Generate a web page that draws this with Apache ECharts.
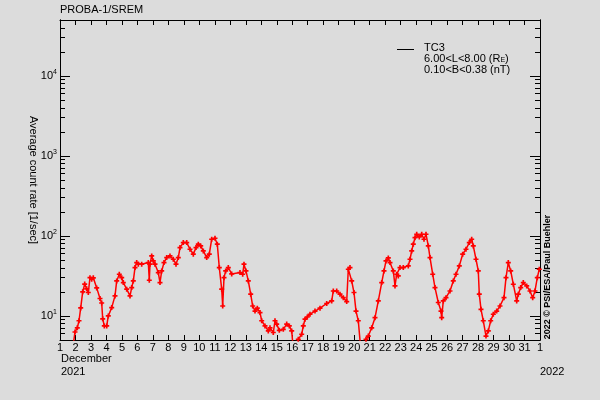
<!DOCTYPE html>
<html><head><meta charset="utf-8">
<script src="https://cdn.jsdelivr.net/npm/echarts@6/dist/echarts.min.js"></script>
<style>html,body{margin:0;padding:0;background:#dcdcdc}#c{width:600px;height:400px}</style>
</head><body><div id="c"></div>
<script>
// Day of December 2021 (32 = 1 January 2022)
const days = [1.872,1.969,2.117,2.227,2.337,2.466,2.595,2.724,2.828,2.937,3.047,3.151,3.370,3.583,3.693,3.758,3.861,4.016,4.119,4.339,
4.552,4.662,4.830,4.985,5.088,5.308,5.521,5.631,5.734,5.844,5.953,6.057,6.276,6.703,6.767,6.812,6.922,7.026,7.135,7.348,
7.458,7.568,7.717,7.891,8.104,8.317,8.492,8.640,8.750,8.963,9.183,9.396,9.609,9.783,9.932,10.087,10.255,10.474,10.642,10.797,
11.010,11.159,11.288,11.443,11.508,11.592,11.701,11.869,12.089,12.625,12.799,12.883,13.012,13.161,13.316,13.445,13.594,13.742,13.917,14.026,
14.239,14.452,14.562,14.775,14.885,14.995,15.163,15.421,15.641,15.809,15.964,16.048,16.306,16.390,16.610,16.713,16.823,16.971,17.146,17.469,
17.792,18.224,18.547,18.651,18.870,19.083,19.296,19.516,19.619,19.729,19.839,19.987,20.117,20.265,20.407,20.698,20.762,20.911,21.131,21.344,
21.557,21.777,21.925,22.054,22.203,22.312,22.526,22.635,22.745,22.848,22.958,23.171,23.494,23.604,23.714,23.817,23.927,24.037,24.205,24.360,
24.508,24.637,24.786,24.896,25.070,25.218,25.431,25.606,25.651,25.754,25.929,26.187,26.400,26.575,26.788,27.007,27.220,27.433,27.588,27.692,
27.866,28.015,28.079,28.189,28.338,28.512,28.661,28.816,28.984,29.203,29.417,29.675,29.804,29.953,30.108,30.276,30.495,30.599,30.754,30.921,
31.141,31.354,31.528,31.677,31.825,31.954];
// TC3 average count rate [1/sec]
const rates = [4.6,6.3,7.1,8.7,12.6,20,25,21.8,19.6,30.1,28.8,29.9,22.4,16.5,14.5,9.2,7.5,7.5,10,12.7,
17.8,27.4,33.2,30.1,26.1,21.6,17.8,22.6,27.4,40.2,46.4,44.3,44.3,46.4,27.9,44.3,56.2,48.7,44.3,34.8,
26.1,36.5,46.4,53.6,56.2,51.1,44.3,53.6,71.4,82.5,82.5,68.2,59.1,71.4,78.8,75,64.9,53.6,59.1,90.9,
93.6,78.8,40.2,21.6,13.3,30.1,36.5,40.2,33.5,34.8,33.2,44.3,36.5,27.4,18.7,13.3,11.5,12.5,11.0,8.7,
7.5,6.5,7.1,6.2,8.7,7.9,6.6,6.8,7.9,7.5,6.5,4.2,4.6,5.1,5.9,7.5,9.1,9.7,10.5,11.5,
12.5,14.3,15.4,20.5,20.5,18.7,16.9,15.1,38.3,40.2,27.4,19.6,11.5,8.7,4.2,4.2,5.1,5.6,7.1,9.5,
15.4,26.1,36.5,48.7,53.1,46.4,36.5,23.7,33.2,31.6,40.2,40.2,42.2,51.1,64.9,78.8,95.2,105,97.2,105,
90.9,105,75,53.6,33.2,22.6,14.7,11.5,9.5,15.4,16.9,20.5,27.4,33.2,42.2,59.1,68.2,82.5,90.9,75,
51.1,36.5,18.7,12.1,8.7,5.6,6.5,8.7,10.5,11.5,13.3,16.9,30.1,46.4,36.5,24.9,15.4,18.7,22.6,26.1,
23.7,20.5,16.9,20.5,30.1,38.3];
const xTickLabels = ['1','2','3','4','5','6','7','8','9','10','11','12','13','14','15','16','17','18','19','20','21','22','23','24','25','26','27','28','29','30','31','1'];
const yDecades = [1,2,3,4]; // labels 10^1 .. 10^4
const yMin = 5, yMax = 50000;

const lmin = Math.log10(yMin), lmax = Math.log10(yMax);
const minorVals = [];
for (let n = 0; n <= 4; n++) for (let k = 2; k <= 9; k++) {
  const l = Math.log10(k * Math.pow(10, n));
  if (l >= lmin && l <= lmax) minorVals.push(l);
}
const font = 'Liberation Sans';
const black = '#000';
const pts = days.map((d, i) => [d, Math.log10(rates[i])]);

function yAx(pos, ticks, len, labels) {
  return {
    type: 'value', position: pos, min: lmin, max: lmax,
    axisLine: {show: true, lineStyle: {color: black, width: 1}},
    axisTick: {show: true, inside: true, length: len, customValues: ticks, lineStyle: {color: black, width: 1}},
    axisLabel: labels ? {
      show: true, customValues: ticks, margin: 3, color: black,
      formatter: v => '{b|10}{s|' + Math.round(v) + '}',
      rich: {b: {fontSize: 11, fontFamily: font, color: black},
             s: {fontSize: 7, fontFamily: font, color: black, padding: [0, 0, 7, 0]}}
    } : {show: false},
    splitLine: {show: false}
  };
}
function xAx(pos, labels) {
  return {
    type: 'value', position: pos, min: 1, max: 32, interval: 1,
    axisLine: {show: true, onZero: false, lineStyle: {color: black, width: 1}},
    axisTick: {show: true, inside: true, length: 5, lineStyle: {color: black, width: 1}},
    axisLabel: labels ? {show: true, interval: 0, margin: 2, color: black, fontSize: 11, fontFamily: font,
      formatter: v => xTickLabels[Math.round(v) - 1]} : {show: false},
    splitLine: {show: false}
  };
}

const chart = echarts.init(document.getElementById('c'), null, {renderer: 'canvas'});
chart.setOption({
  animation: false,
  backgroundColor: '#dcdcdc',
  grid: {left: 60, right: 60, top: 20, bottom: 60},
  xAxis: [xAx('bottom', true), xAx('top', false)],
  yAxis: [yAx('left', yDecades, 10, true), yAx('left', minorVals, 5, false),
          yAx('right', yDecades, 10, false), yAx('right', minorVals, 5, false)],
  series: [{
    type: 'line', xAxisIndex: 0, yAxisIndex: 0, data: pts,
    symbol: 'path://M1,0H2V1H3V2H2V3H1V2H0V1H1Z', symbolSize: 5, showAllSymbol: true,
    lineStyle: {color: '#ff0000', width: 1.5},
    itemStyle: {color: '#ff0000'},
    clip: true
  }],
  graphic: [
    {type: 'text', left: 60, top: 4, style: {text: 'PROBA-1/SREM', font: '11px ' + font, fill: black}},
    {type: 'text', left: 61, top: 353, style: {text: 'December', font: '11px ' + font, fill: black}},
    {type: 'text', left: 61, top: 366, style: {text: '2021', font: '11px ' + font, fill: black}},
    {type: 'text', left: 540, top: 366, style: {text: '2022', font: '11px ' + font, fill: black}},
    {type: 'line', shape: {x1: 397, y1: 49.5, x2: 414, y2: 49.5}, style: {stroke: black, lineWidth: 1}},
    {type: 'text', left: 424, top: 42, style: {text: 'TC3', font: '11px ' + font, fill: black}},
    {type: 'text', left: 424, top: 53, style: {text: '{a|6.00<L<8.00 (R}{e|E}{a|)}', rich: {a: {font: '11px ' + font, fill: black}, e: {font: '7px ' + font, fill: black, padding: [4, 0, 0, 0]}}}},
    {type: 'text', left: 424, top: 64, style: {text: '0.10<B<0.38 (nT)', font: '11px ' + font, fill: black}},
    {type: 'text', x: 33, y: 180, rotation: -Math.PI / 2, style: {text: 'Average count rate [1/sec]', font: '11px ' + font, fill: black, align: 'center', verticalAlign: 'middle'}},
    {type: 'text', x: 548, y: 277, rotation: Math.PI / 2, style: {text: '2022 \u00a9 PSI/ESA/Paul Buehler', font: 'bold 9px ' + font, fill: black, align: 'center', verticalAlign: 'middle'}}
  ]
});
</script></body></html>
